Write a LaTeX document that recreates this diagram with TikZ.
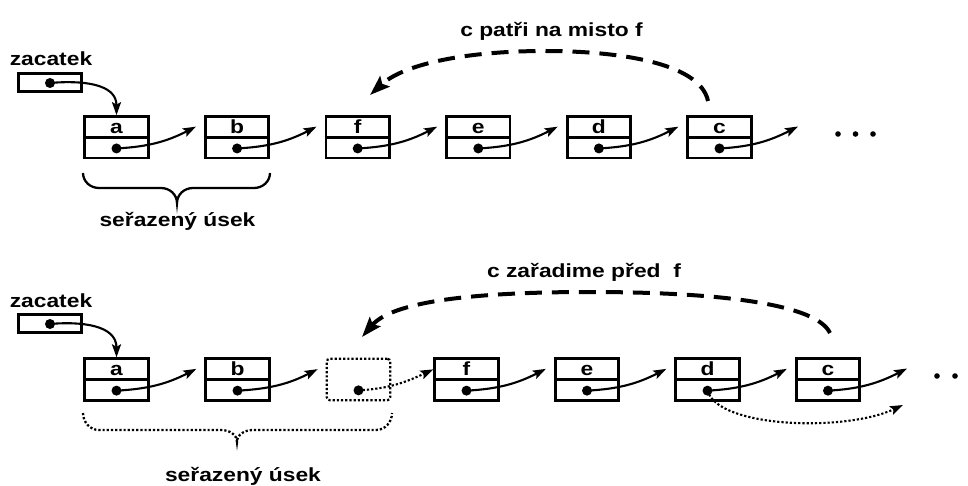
\documentclass[tikz,border=0pt]{standalone}
\usepackage{fontspec}
\setmainfont{Liberation Sans}
\usetikzlibrary{calc,arrows.meta}
\newcommand\wtxt[1]{\scalebox{1.2}[1]{#1}}
\tikzset{
 cell/.style={draw, line width=2.8pt, minimum width=63.5pt, minimum height=41.5pt, inner sep=0pt},
 ghost/.style={draw, line width=2.2pt, dash pattern=on 2.2pt off 2pt, minimum width=63.5pt, minimum height=41.5pt, inner sep=0pt, rounded corners=3pt},
 ptrbox/.style={draw, line width=2.8pt, minimum width=62.5pt, minimum height=18.5pt, inner sep=0pt},
 divider/.style={line width=2.6pt},
 lbl/.style={font=\fontsize{19}{22}\selectfont\bfseries, inner sep=0pt, anchor=base},
 link/.style={line width=2.1pt, -{Stealth[length=13pt,width=9pt,inset=2.5pt]}},
 dlink/.style={line width=2.1pt, dash pattern=on 2.2pt off 2pt, -{Stealth[length=13pt,width=9pt,inset=2.5pt]}},
 jump/.style={line width=4pt, dash pattern=on 17pt off 10pt, -{Stealth[length=20pt,width=14pt,inset=3.5pt]}},
 bracepath/.style={line width=2.3pt},
}
\newcommand\lcell[4]{%
  \node[cell] (#1) at (#2,#3) {};
  \draw[divider] (#1.west) -- (#1.east);
  \node[lbl] (#1l) at ($(#1.north)+(0,-18.5)$) {\wtxt{#4}};
  \coordinate (#1d) at ($(#1.south)+(0,11)$);
  \fill (#1d) circle (5pt);
  \coordinate (#1in) at ($(#1.north west)+(-8,-11.5)$);
}
\begin{document}
\begin{tikzpicture}[x=1pt,y=1pt]
\useasboundingbox (0,0) rectangle (968,-486);
\fill[white] (0,0) rectangle (968,-486);

% ===== top row =====
\node[lbl] (Z1t) at (51,-66) {\wtxt{zacatek}};
\node[ptrbox] (Z1) at (50,-82.5) {};
\coordinate (Z1d) at (50,-83);
\fill (Z1d) circle (5pt);

\lcell{A1}{116.5}{-137.3}{a}
\lcell{B1}{237.1}{-137.3}{b}
\lcell{F1}{357.7}{-137.3}{f}
\lcell{E1}{478.3}{-137.3}{e}
\lcell{D1}{598.9}{-137.3}{d}
\lcell{C1}{719.5}{-137.3}{c}
\coordinate (N1) at (798,-126.5);

\draw[link] (Z1d) to[out=5,in=90,looseness=1.1] (A1.north);
\draw[link] (A1d) to[out=3,in=207] (B1in);
\draw[link] (B1d) to[out=3,in=207] (F1in);
\draw[link] (F1d) to[out=3,in=207] (E1in);
\draw[link] (E1d) to[out=3,in=207] (D1in);
\draw[link] (D1d) to[out=3,in=207] (C1in);
\draw[link] (C1d) to[out=3,in=207] (N1);
\foreach \xx in {838,855.5,873} \fill (\xx,-134) circle (2.8pt);

\draw[bracepath] (83,-173) to[out=-90,in=180] (99,-188) -- (161,-188)
  to[out=0,in=90] (177,-203) to[out=90,in=180] (193,-188) -- (254,-188)
  to[out=0,in=-90] (270,-173);
\node[lbl] (S1) at (177.5,-227) {\wtxt{seřazený úsek}};

\coordinate (J1s) at (708,-101);
\coordinate (J1e) at (370,-95);
\draw[jump] (J1s) .. controls (700,-62) and (615,-51) .. (545,-51)
  .. controls (470,-51) and (405,-63) .. (J1e);
\node[lbl] (T1) at (551.5,-37) {\wtxt{c patři na misto f}};

% ===== bottom row =====
\node[lbl] (Z2t) at (51,-307) {\wtxt{zacatek}};
\node[ptrbox] (Z2) at (50,-323.5) {};
\coordinate (Z2d) at (50,-324);
\fill (Z2d) circle (5pt);

\lcell{A2}{116.5}{-379.5}{a}
\lcell{B2}{237.5}{-379.5}{b}
\node[ghost] (X2) at (358.5,-379.5) {};
\coordinate (X2d) at ($(X2.south)+(0,11)$);
\fill (X2d) circle (5pt);
\lcell{F2}{466.5}{-379.5}{f}
\lcell{E2}{587}{-379.5}{e}
\lcell{D2}{707.5}{-379.5}{d}
\lcell{C2}{828}{-379.5}{c}
\coordinate (N2) at (907,-368.5);
\coordinate (M2) at (903,-405);
\coordinate (F2t) at ($(F2.north west)+(0,-12)$);
\coordinate (X2in) at ($(X2.north west)+(-8,-11.5)$);

\draw[link] (Z2d) to[out=5,in=90,looseness=1.1] (A2.north);
\draw[link] (A2d) to[out=3,in=207] (B2in);
\draw[link] (B2d) to[out=3,in=207] (X2in);
\draw[dlink] (X2d) to[out=3,in=205] (F2t);
\draw[link] (F2d) to[out=3,in=207] (E2in);
\draw[link] (E2d) to[out=3,in=207] (D2in);
\draw[link] (D2d) to[out=3,in=207] (C2in);
\draw[link] (C2d) to[out=3,in=207] (N2);
\draw[dlink] (D2d) .. controls (718,-428) and (845,-432) .. (M2);
\foreach \xx in {937,955,973} \fill (\xx,-376) circle (2.8pt);

\draw[bracepath, dash pattern=on 2.2pt off 2pt] (83,-413) to[out=-90,in=180] (99,-430) -- (221,-430)
  to[out=0,in=90] (237,-442) to[out=90,in=180] (253,-430) -- (376,-430)
  to[out=0,in=-90] (392,-413);
\node[lbl] (S2) at (243,-481) {\wtxt{seřazený úsek}};

\coordinate (J2s) at (830,-333);
\coordinate (J2e) at (362,-337);
\draw[jump] (J2s) .. controls (815,-301) and (700,-292) .. (590,-292)
  .. controls (470,-292) and (392,-302) .. (J2e);
\node[lbl] (T2) at (584,-277) {\wtxt{c zařadime před~ f}};
\end{tikzpicture}
\end{document}
